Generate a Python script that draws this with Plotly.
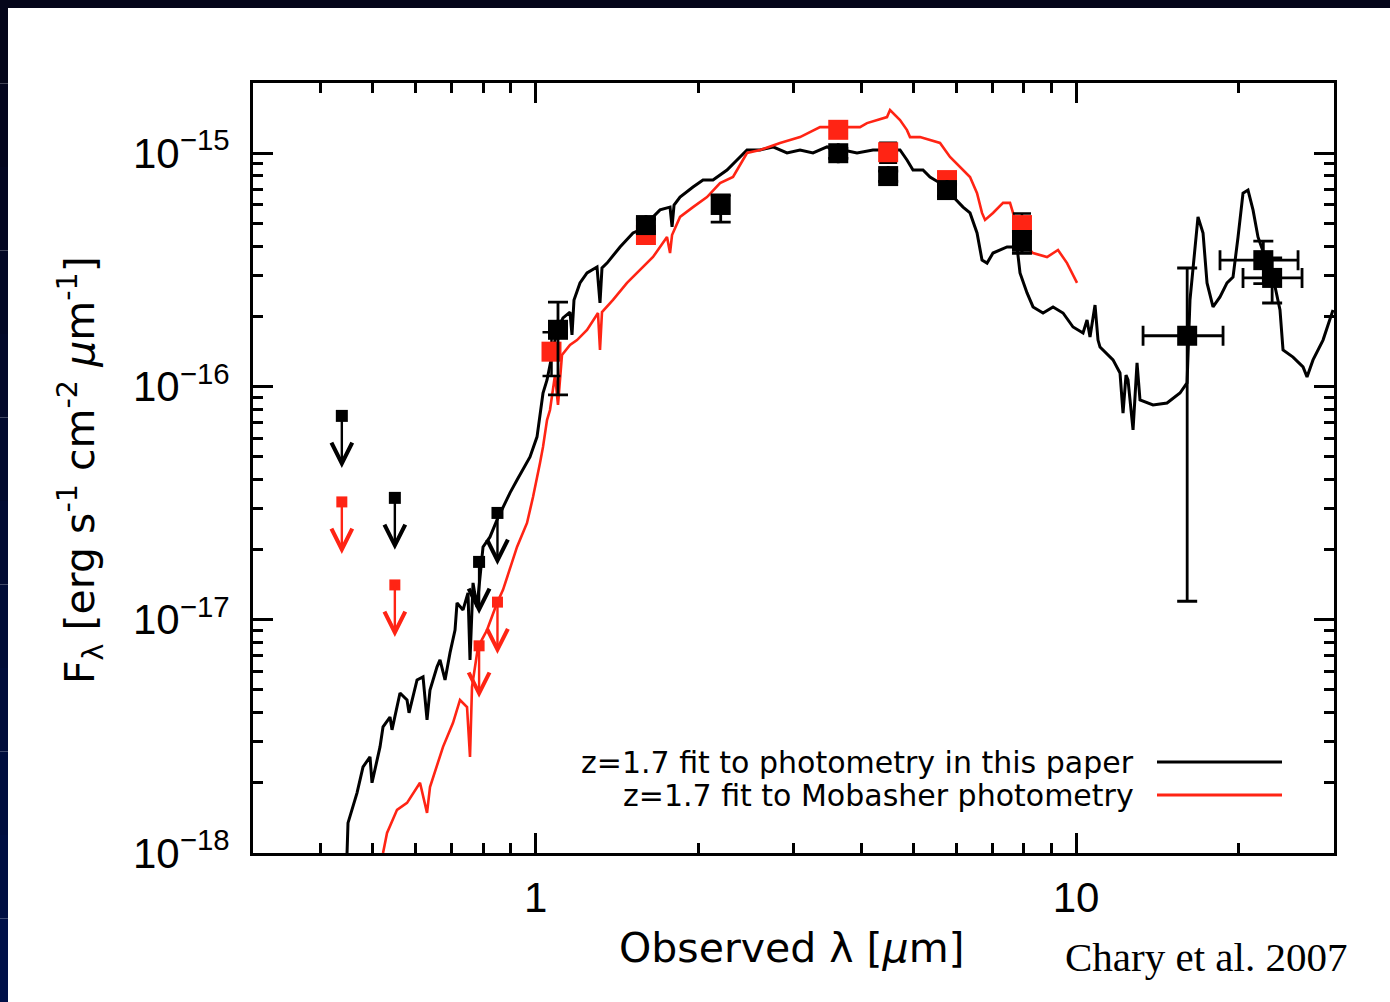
import math
import plotly.graph_objects as go

# ---------------------------------------------------------------
# z = 1.7 template fits (log10 wavelength [um], log10 F_lambda)
# ---------------------------------------------------------------
fit_this_logwave = [
    -0.3489, -0.3471, -0.3304, -0.3193, -0.3064, -0.3027, -0.2879, -0.2823, -0.2694, -0.2657,
    -0.2509, -0.2379, -0.2342, -0.2194, -0.2083, -0.2009, -0.1954, -0.1824, -0.1769, -0.1676,
    -0.1584, -0.1491, -0.1454, -0.1343, -0.1251, -0.1214, -0.1158, -0.1084, -0.0973, -0.0844,
    -0.0714, -0.0603, -0.0474, -0.0344, -0.0233, -0.0104, 0.0026, 0.0081, 0.0137, 0.0211,
    0.0303, 0.0396, 0.0507, 0.0636, 0.0673, 0.0710, 0.0821, 0.0951, 0.1136, 0.1191,
    0.1228, 0.1321, 0.1562, 0.1802, 0.1932, 0.2302, 0.2487, 0.2524, 0.2561, 0.2672,
    0.2912, 0.3097, 0.3282, 0.3541, 0.3726, 0.3911, 0.4152, 0.4392, 0.4651, 0.4892,
    0.5132, 0.5391, 0.5687, 0.5946, 0.6242, 0.6742, 0.6871, 0.6982, 0.7167, 0.7297,
    0.7482, 0.7667, 0.7797, 0.7908, 0.8037, 0.8167, 0.8259, 0.8352, 0.8462, 0.8722,
    0.8907, 0.8962, 0.9092, 0.9203, 0.9388, 0.9573, 0.9758, 0.9943, 1.0128, 1.0202,
    1.0257, 1.0350, 1.0405, 1.0442, 1.0683, 1.0812, 1.0868, 1.0923, 1.0960, 1.1053,
    1.1127, 1.1182, 1.1423, 1.1682, 1.1922, 1.2052, 1.2107, 1.2163, 1.2255, 1.2348,
    1.2422, 1.2533, 1.2662, 1.2792, 1.2903, 1.2996, 1.3088, 1.3180, 1.3273, 1.3365,
    1.3495, 1.3643, 1.3772, 1.3828, 1.4013, 1.4198, 1.4272, 1.4383, 1.4568, 1.4753,
]
fit_this_logflux = [
    -18.000, -17.871, -17.742, -17.631, -17.588, -17.699, -17.545, -17.459, -17.417, -17.472,
    -17.314, -17.344, -17.399, -17.258, -17.245, -17.429, -17.301, -17.202, -17.172, -17.258,
    -17.142, -17.044, -16.928, -16.958, -16.885, -17.172, -16.842, -16.945, -16.688, -16.645,
    -16.572, -16.516, -16.456, -16.401, -16.358, -16.302, -16.216, -16.114, -16.028, -15.972,
    -15.865, -15.758, -15.706, -15.681, -15.779, -15.629, -15.556, -15.513, -15.488, -15.642,
    -15.492, -15.471, -15.402, -15.342, -15.329, -15.243, -15.231, -15.316, -15.222, -15.188,
    -15.145, -15.115, -15.115, -15.072, -15.029, -14.986, -14.986, -14.973, -14.999, -14.986,
    -14.999, -14.973, -14.986, -14.999, -14.986, -14.986, -15.029, -15.072, -15.072, -15.102,
    -15.128, -15.171, -15.201, -15.231, -15.256, -15.342, -15.458, -15.471, -15.428, -15.402,
    -15.402, -15.513, -15.599, -15.659, -15.685, -15.659, -15.685, -15.745, -15.771, -15.715,
    -15.788, -15.651, -15.801, -15.831, -15.886, -15.942, -16.114, -15.951, -15.972, -16.186,
    -15.899, -16.058, -16.079, -16.071, -16.028, -15.985, -15.629, -15.488, -15.273, -15.342,
    -15.556, -15.659, -15.616, -15.556, -15.531, -15.359, -15.171, -15.158, -15.243, -15.359,
    -15.445, -15.531, -15.672, -15.843, -15.874, -15.916, -15.959, -15.886, -15.801, -15.672,
]

fit_mob_logwave = [
    -0.2823, -0.2749, -0.2564, -0.2379, -0.2139, -0.2009, -0.1954, -0.1713, -0.1528, -0.1399,
    -0.1269, -0.1214, -0.1177, -0.1066, -0.0899, -0.0714, -0.0603, -0.0344, -0.0159, -0.0048,
    0.0081, 0.0137, 0.0211, 0.0266, 0.0359, 0.0414, 0.0488, 0.0636, 0.0766, 0.0951,
    0.1154, 0.1191, 0.1228, 0.1432, 0.1691, 0.1932, 0.2172, 0.2431, 0.2487, 0.2524,
    0.2672, 0.2912, 0.3171, 0.3412, 0.3652, 0.3911, 0.4152, 0.4522, 0.4892, 0.5262,
    0.5632, 0.6002, 0.6131, 0.6501, 0.6557, 0.6742, 0.6871, 0.6927, 0.7112, 0.7297,
    0.7482, 0.7667, 0.7852, 0.8037, 0.8167, 0.8259, 0.8315, 0.8462, 0.8648, 0.8777,
    0.8833, 0.8962, 0.9203, 0.9462, 0.9665, 0.9832, 1.0017,
]
fit_mob_logflux = [
    -18.000, -17.914, -17.815, -17.785, -17.699, -17.828, -17.717, -17.545, -17.442, -17.344,
    -17.374, -17.588, -17.288, -17.117, -17.044, -16.928, -16.872, -16.688, -16.585, -16.474,
    -16.328, -16.259, -16.144, -16.101, -15.951, -16.079, -15.865, -15.822, -15.801, -15.758,
    -15.685, -15.843, -15.681, -15.629, -15.556, -15.501, -15.445, -15.359, -15.428, -15.351,
    -15.273, -15.231, -15.188, -15.128, -15.102, -14.999, -14.986, -14.956, -14.931, -14.888,
    -14.888, -14.888, -14.871, -14.845, -14.815, -14.858, -14.901, -14.931, -14.931, -14.943,
    -14.956, -15.016, -15.059, -15.102, -15.171, -15.256, -15.286, -15.256, -15.213, -15.213,
    -15.256, -15.372, -15.428, -15.445, -15.415, -15.471, -15.556,
]

# ---------------------------------------------------------------
# Photometry (wavelength in um, F_lambda in erg s^-1 cm^-2 um^-1)
# ---------------------------------------------------------------
this_wave = [1.10, 1.60, 2.20, 3.63, 4.49, 5.77, 7.94, 16.05, 22.2, 23.05]
this_flux = [1.75e-16, 4.92e-16, 6.0e-16, 1.0e-15, 7.98e-16, 6.95e-16, 4.17e-16,
             1.65e-16, 3.48e-16, 2.92e-16]
this_err_up = [0.55e-16, 0.3e-16, 0.62e-16, 0.05e-15, 0.4e-16, 0.4e-16, 0.45e-16,
               1.57e-16, 0.72e-16, 0.64e-16]
this_err_dn = [0.83e-16, 0.3e-16, 0.93e-16, 0.05e-15, 0.4e-16, 0.4e-16, 0.45e-16,
               1.53e-16, 0.72e-16, 0.64e-16]
this_werr_up = [0, 0, 0, 0, 0, 0, 0, 2.65, 3.54, 3.13]
this_werr_dn = [0, 0, 0, 0, 0, 0, 0, 2.75, 3.74, 2.69]

mob_wave = [1.07, 1.60, 3.63, 4.49, 5.77, 7.94]
mob_flux = [1.41e-16, 4.46e-16, 1.26e-15, 1.01e-15, 7.67e-16, 4.92e-16]
mob_err = [0.3e-16, 0.3e-16, 0.07e-15, 0.1e-15, 0.4e-16, 0.6e-16]

# Optical upper limits
lim_wave = [0.438, 0.549, 0.786, 0.850]
lim_this = [7.48e-17, 3.33e-17, 1.77e-17, 2.87e-17]
lim_mob = [3.2e-17, 1.41e-17, 7.73e-18, 1.19e-17]

legend_labels = ["z=1.7 fit to photometry in this paper",
                 "z=1.7 fit to Mobasher photometry"]

BLACK = "#000000"
RED = "#ff2414"
W, H = 1390, 1002
L, R, T, B = 253, 1334, 83, 853


def px(xp):
    return (xp - L) / (R - L)


def py(yp):
    return (B - yp) / (B - T)


fig = go.Figure()

# model spectra
fig.add_trace(go.Scatter(
    x=[10 ** v for v in fit_this_logwave], y=[10 ** v for v in fit_this_logflux],
    mode="lines", line=dict(color=BLACK, width=3), hoverinfo="skip"))
fig.add_trace(go.Scatter(
    x=[10 ** v for v in fit_mob_logwave], y=[10 ** v for v in fit_mob_logflux],
    mode="lines", line=dict(color=RED, width=2.6), hoverinfo="skip"))

# Mobasher photometry
fig.add_trace(go.Scatter(
    x=mob_wave, y=mob_flux, mode="markers",
    marker=dict(symbol="square", size=20, color=RED),
    error_y=dict(type="data", array=mob_err, color=BLACK, thickness=2.5, width=9),
))
# photometry in this paper
fig.add_trace(go.Scatter(
    x=this_wave, y=this_flux, mode="markers",
    marker=dict(symbol="square", size=20, color=BLACK),
    error_y=dict(type="data", array=this_err_up, arrayminus=this_err_dn,
                 color=BLACK, thickness=2.8, width=10),
    error_x=dict(type="data", array=this_werr_up, arrayminus=this_werr_dn,
                 color=BLACK, thickness=2.8, width=10),
))

# upper limits: small squares with downward arrows
fig.add_trace(go.Scatter(x=lim_wave, y=lim_this, mode="markers",
                         marker=dict(symbol="square", size=12, color=BLACK)))
fig.add_trace(go.Scatter(x=lim_wave, y=lim_mob, mode="markers",
                         marker=dict(symbol="square", size=11, color=RED)))
for wl, fl_a, fl_b in zip(lim_wave, lim_this, lim_mob):
    for fl, col in ((fl_a, BLACK), (fl_b, RED)):
        fig.add_annotation(
            x=math.log10(wl), y=math.log10(fl), xref="x", yref="y",
            text="", showarrow=True, ax=0, ay=-52, yshift=-52,
            arrowhead=5, arrowsize=1.7, arrowwidth=2.4, arrowcolor=col)

# legend drawn by hand: text on the left, line sample on the right
for label, yy, col in zip(legend_labels, (762, 795), (BLACK, RED)):
    fig.add_annotation(x=px(1136), y=py(yy), xref="paper", yref="paper",
                       text=label, showarrow=False, xanchor="right", yanchor="middle",
                       font=dict(family="DejaVu Sans", size=30, color=BLACK))
    fig.add_shape(type="line", xref="paper", yref="paper",
                  x0=px(1157), x1=px(1282), y0=py(yy), y1=py(yy),
                  line=dict(color=col, width=3))

# axis titles and credit
fig.add_annotation(x=px(792), y=py(948), xref="paper", yref="paper",
                   xanchor="center", yanchor="middle",
                   text="Observed λ [<i>μ</i>m]", showarrow=False,
                   font=dict(family="DejaVu Sans", size=41, color=BLACK))
fig.add_annotation(x=px(80), y=py(470), xref="paper", yref="paper",
                   xanchor="center", yanchor="middle",
                   text="F<sub>λ</sub> [erg s<sup>-1</sup> cm<sup>-2</sup> <i>μ</i>m<sup>-1</sup>]",
                   textangle=-90, showarrow=False,
                   font=dict(family="DejaVu Sans", size=41, color=BLACK))
fig.add_annotation(x=px(1206), y=py(957), xref="paper", yref="paper",
                   xanchor="center", yanchor="middle",
                   text="Chary et al. 2007", showarrow=False,
                   font=dict(family="Liberation Serif", size=41, color=BLACK))

# dark slide frame along the top and left edges
fig.add_shape(type="rect", xref="paper", yref="paper", layer="above",
              x0=px(0), x1=px(W), y0=py(0), y1=py(8),
              fillcolor="#05061a", line=dict(width=0))
n_band = 12
for i in range(n_band):
    t = i / (n_band - 1)
    r = int(5 + (0 - 5) * t)
    g = int(6 + (16 - 6) * t)
    b = int(26 + (72 - 26) * t)
    fig.add_shape(type="rect", xref="paper", yref="paper", layer="above",
                  x0=px(0), x1=px(8),
                  y0=py(H * i / n_band), y1=py(H * (i + 1) / n_band),
                  fillcolor=f"rgb({r},{g},{b})", line=dict(width=0))

y_major = [1e-18, 1e-17, 1e-16, 1e-15]
y_labels = ["10<sup>−18</sup>", "10<sup>−17</sup>", "10<sup>−16</sup>", "10<sup>−15</sup>"]
y_minor = [k * 10.0 ** e for e in (-18, -17, -16) for k in range(2, 10)] + [2e-15]
x_minor = [0.4, 0.5, 0.6, 0.7, 0.8, 0.9, 2, 3, 4, 5, 6, 7, 8, 9, 20, 30]

axis_common = dict(
    type="log", showgrid=False, zeroline=False, showline=True, linewidth=3,
    linecolor=BLACK, mirror="allticks", ticks="inside", ticklen=20, tickwidth=3,
    tickcolor=BLACK, tickfont=dict(family="Liberation Sans", size=42, color=BLACK),
)

fig.update_layout(
    width=W, height=H, showlegend=False,
    paper_bgcolor="white", plot_bgcolor="white",
    margin=dict(l=L, r=W - R, t=T, b=H - B, pad=0),
    xaxis=dict(range=[math.log10(0.3), math.log10(30)], tickvals=[1, 10],
               ticktext=["1", "10"], ticklabelstandoff=6,
               minor=dict(tickvals=x_minor, ticks="inside", ticklen=10, tickwidth=3,
                          tickcolor=BLACK, showgrid=False),
               **axis_common),
    yaxis=dict(range=[-18, math.log10(2e-15)], tickvals=y_major, ticktext=y_labels,
               ticklabelstandoff=12,
               minor=dict(tickvals=y_minor, ticks="inside", ticklen=10, tickwidth=3,
                          tickcolor=BLACK, showgrid=False),
               **axis_common),
)

fig.write_html("out.html", post_script="document.body.style.margin='0';")
